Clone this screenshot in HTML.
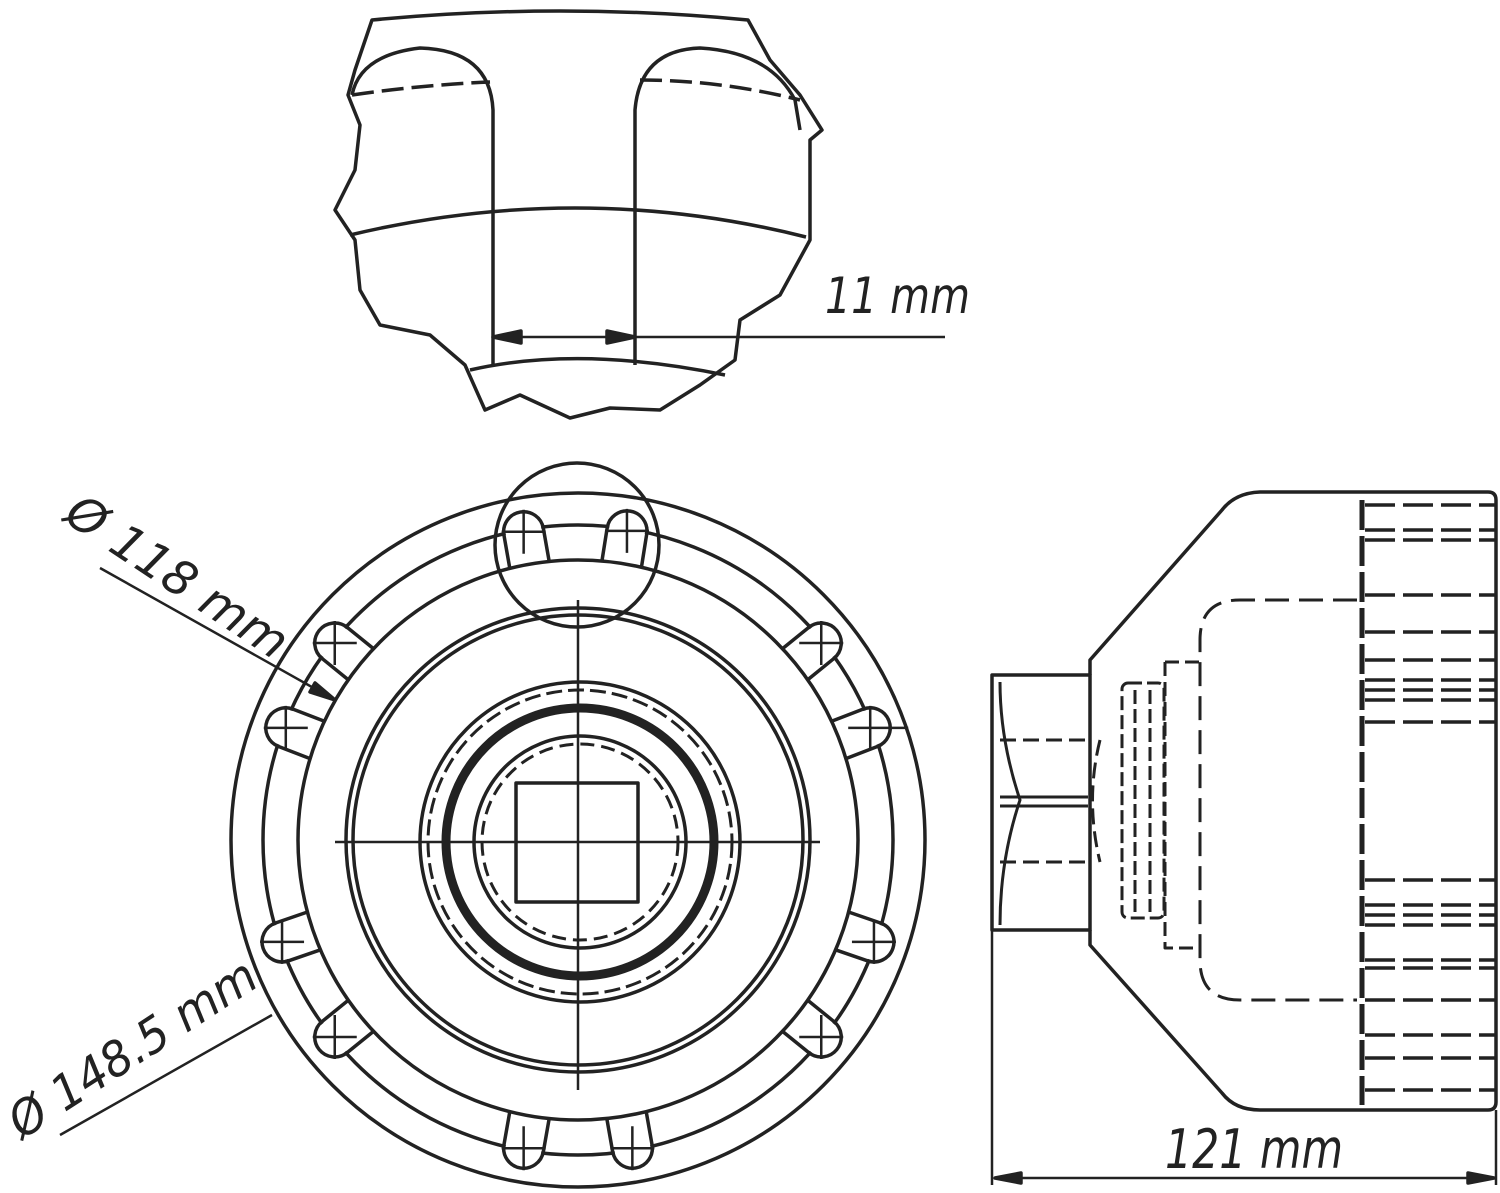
<!DOCTYPE html>
<html><head><meta charset="utf-8"><style>
html,body{margin:0;padding:0;background:#fff;width:1500px;height:1193px;overflow:hidden}
text{font-family:"DejaVu Sans","Liberation Sans",sans-serif;font-style:italic;fill:#222}
</style></head><body>
<svg width="1500" height="1193" viewBox="0 0 1500 1193" xmlns="http://www.w3.org/2000/svg" fill="none" stroke="#222" stroke-width="3.5" stroke-linejoin="round">
<!-- TOP DETAIL -->
<path d="M372,20 Q560,2 748,20 L770,60 L800,95 L822,130 L810,140 L810,240 L780,295 L740,320 L735,360 L700,385 L660,410 L610,408 L570,418 L520,395 L485,410 L465,365 L430,335 L380,325 L360,290 L355,240 L335,210 L355,170 L360,125 L348,95 L355,70 Z"/>
<path d="M352,95 Q360,55 420,48 Q490,50 493,110 L493,365"/>
<path d="M635,365 L635,110 Q640,50 700,48 Q770,52 795,100 L800,130"/>
<path d="M352,95 Q420,85 490,82 M640,80 Q720,80 800,100" stroke-dasharray="22,8"/>
<path d="M350,235 Q580,180 806,237"/>
<path d="M470,370 Q580,345 725,375"/>
<path d="M493,337 L945,337" stroke-width="2.5"/>
<path d="M493,337 l28,-6 l0,12 Z M635,337 l-28,-6 l0,12 Z" fill="#222"/>
<text x="825" y="313" font-size="50" textLength="145" lengthAdjust="spacingAndGlyphs" stroke="none">11 mm</text>
<!-- FRONT VIEW -->
<circle cx="578" cy="840" r="347"/>
<circle cx="578" cy="840" r="280"/>
<circle cx="578" cy="840" r="315"/>
<circle cx="578" cy="840" r="232"/>
<circle cx="578" cy="840" r="225"/>
<circle cx="580" cy="842" r="160"/>
<circle cx="580" cy="842" r="152" stroke-dasharray="16,6" stroke-width="3"/>
<circle cx="580" cy="842" r="134" stroke-width="9"/>
<circle cx="580" cy="842" r="106"/>
<circle cx="580" cy="842" r="98" stroke-dasharray="14,7" stroke-width="3"/>
<circle cx="577" cy="545" r="82"/>
<rect x="516" y="783" width="122" height="119"/>
<path d="M578,600 V1090 M335,842 H820" stroke-width="2.5"/>
<!-- slots -->
<g>
<g transform="rotate(-10 578 840)"><rect x="560" y="512" width="36" height="24" fill="#fff" stroke="none"/><path d="M558,560 V527 A20,20 0 0 1 598,527 V560"/><path transform="rotate(10 578 527)" d="M556,527h44M578,505v44" stroke-width="2.5"/></g>
<g transform="rotate(9 578 840)"><rect x="560" y="512" width="36" height="24" fill="#fff" stroke="none"/><path d="M558,560 V527 A20,20 0 0 1 598,527 V560"/><path transform="rotate(-9 578 527)" d="M556,527h44M578,505v44" stroke-width="2.5"/></g>
<g transform="rotate(-51 578 840)"><rect x="560" y="512" width="36" height="24" fill="#fff" stroke="none"/><path d="M558,560 V527 A20,20 0 0 1 598,527 V560"/><path transform="rotate(51 578 527)" d="M556,527h44M578,505v44" stroke-width="2.5"/></g>
<g transform="rotate(51 578 840)"><rect x="560" y="512" width="36" height="24" fill="#fff" stroke="none"/><path d="M558,560 V527 A20,20 0 0 1 598,527 V560"/><path transform="rotate(-51 578 527)" d="M556,527h44M578,505v44" stroke-width="2.5"/></g>
<g transform="rotate(-69 578 840)"><rect x="560" y="512" width="36" height="24" fill="#fff" stroke="none"/><path d="M558,560 V527 A20,20 0 0 1 598,527 V560"/><path transform="rotate(69 578 527)" d="M556,527h44M578,505v44" stroke-width="2.5"/></g>
<g transform="rotate(69 578 840)"><rect x="560" y="512" width="36" height="24" fill="#fff" stroke="none"/><path d="M558,560 V527 A20,20 0 0 1 598,527 V560"/><path transform="rotate(-69 578 527)" d="M556,527h60M578,505v44" stroke-width="2.5"/></g>
<g transform="rotate(-109 578 840)"><rect x="560" y="512" width="36" height="24" fill="#fff" stroke="none"/><path d="M558,560 V527 A20,20 0 0 1 598,527 V560"/><path transform="rotate(109 578 527)" d="M556,527h44M578,505v44" stroke-width="2.5"/></g>
<g transform="rotate(109 578 840)"><rect x="560" y="512" width="36" height="24" fill="#fff" stroke="none"/><path d="M558,560 V527 A20,20 0 0 1 598,527 V560"/><path transform="rotate(-109 578 527)" d="M556,527h44M578,505v44" stroke-width="2.5"/></g>
<g transform="rotate(-129 578 840)"><rect x="560" y="512" width="36" height="24" fill="#fff" stroke="none"/><path d="M558,560 V527 A20,20 0 0 1 598,527 V560"/><path transform="rotate(129 578 527)" d="M556,527h44M578,505v44" stroke-width="2.5"/></g>
<g transform="rotate(129 578 840)"><rect x="560" y="512" width="36" height="24" fill="#fff" stroke="none"/><path d="M558,560 V527 A20,20 0 0 1 598,527 V560"/><path transform="rotate(-129 578 527)" d="M556,527h44M578,505v44" stroke-width="2.5"/></g>
<g transform="rotate(-170 578 840)"><rect x="560" y="512" width="36" height="24" fill="#fff" stroke="none"/><path d="M558,560 V527 A20,20 0 0 1 598,527 V560"/><path transform="rotate(170 578 527)" d="M556,527h44M578,505v44" stroke-width="2.5"/></g>
<g transform="rotate(170 578 840)"><rect x="560" y="512" width="36" height="24" fill="#fff" stroke="none"/><path d="M558,560 V527 A20,20 0 0 1 598,527 V560"/><path transform="rotate(-170 578 527)" d="M556,527h44M578,505v44" stroke-width="2.5"/></g>
</g>
<path d="M100,568 L335,700" stroke-width="2.5"/>
<path d="M335,700 l-20,-17 l-5,9 Z" fill="#222"/>
<text transform="translate(62,520) rotate(33.5)" font-size="48" textLength="255" lengthAdjust="spacingAndGlyphs" stroke="none">Ø 118 mm</text>
<path d="M60,1135 L272,1015" stroke-width="2.5"/>
<text transform="translate(22,1140) rotate(-33)" font-size="48" textLength="285" lengthAdjust="spacingAndGlyphs" stroke="none">Ø 148.5 mm</text>
<!-- SIDE VIEW -->
<path d="M1090,675 L1090,660 L1222,510 Q1235,493 1260,492 L1488,492 Q1496,492 1496,500 L1496,1102 Q1496,1110 1488,1110 L1260,1110 Q1235,1110 1222,1093 L1090,945 L1090,930"/>
<rect x="992" y="675" width="98" height="255"/>
<path d="M1000,797 H1088 M1000,806 H1088" stroke-width="3"/>
<path d="M1000,682 Q1000,740 1020,800 Q1000,860 1000,925" stroke-width="3"/>
<path d="M1000,740 H1088 M1000,862 H1088 M1100,740 Q1085,800 1100,862" stroke-dasharray="16,7" stroke-width="3"/>
<rect x="1122" y="683" width="42" height="235" rx="6" stroke-dasharray="14,5" stroke-width="3"/>
<path d="M1135,690 V912 M1150,690 V912" stroke-dasharray="14,5" stroke-width="3"/>
<path d="M1165,662 H1200 M1165,662 V948 H1200" stroke-dasharray="14,6" stroke-width="3"/>
<path d="M1357,600 L1240,600 Q1200,600 1200,640 L1200,960 Q1200,1000 1240,1000 L1357,1000" stroke-dasharray="24,10" stroke-width="3"/>
<path d="M1362,500 V1105" stroke-dasharray="30,6" stroke-width="5"/>
<g stroke-dasharray="30,8" stroke-width="3.5">
<path d="M1365,505 H1495 M1365,530 H1495 M1365,540 H1495 M1365,595 H1495 M1365,632 H1495 M1365,660 H1495 M1365,680 H1495 M1365,690 H1495 M1365,700 H1495 M1365,722 H1495"/>
<path d="M1365,880 H1495 M1365,905 H1495 M1365,915 H1495 M1365,925 H1495 M1365,960 H1495 M1365,968 H1495 M1365,1000 H1495 M1365,1035 H1495 M1365,1058 H1495 M1365,1090 H1495"/>
</g>
<path d="M992,930 V1185 M1496,1110 V1185 M995,1178 H1494" stroke-width="2.5"/>
<path d="M995,1178 l26,-5 l0,10 Z M1494,1178 l-26,-5 l0,10 Z" fill="#222"/>
<text x="1165" y="1168" font-size="54" textLength="178" lengthAdjust="spacingAndGlyphs" stroke="none">121 mm</text>
</svg>
</body></html>
